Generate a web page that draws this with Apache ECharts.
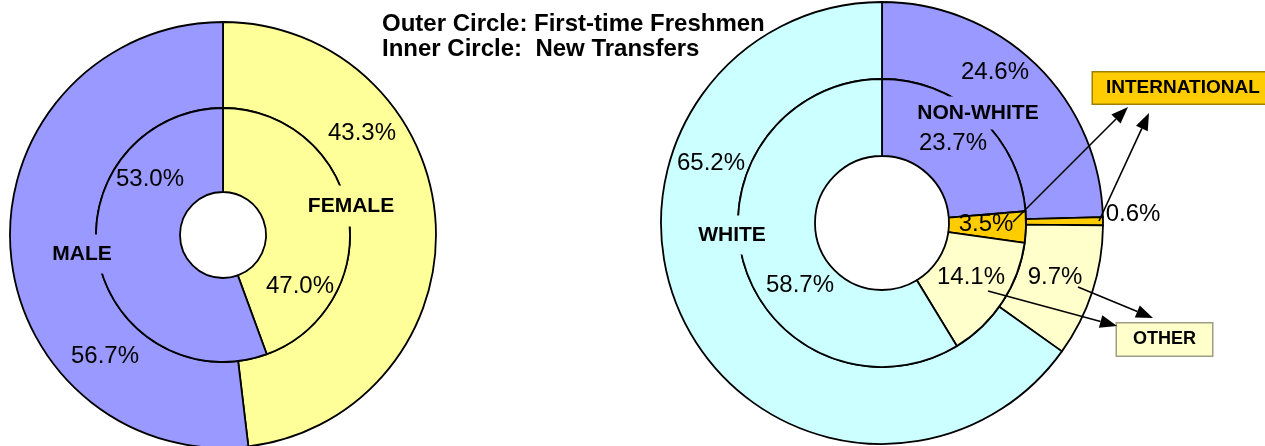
<!DOCTYPE html>
<html>
<head>
<meta charset="utf-8">
<script src="https://cdn.jsdelivr.net/npm/echarts@6/dist/echarts.min.js"></script>
<style>
  html, body { margin: 0; padding: 0; background: #ffffff; }
  #chart { width: 1265px; height: 446px; }
</style>
</head>
<body>
<div id="chart"></div>
<script>
// ---------------- data ----------------
const titleLines = ['Outer Circle: First-time Freshmen', 'Inner Circle:  New Transfers'];

// Left donut: gender (clockwise from 12 o'clock)
const genderCategories = ['FEMALE', 'MALE'];
const genderFreshmen = [48.1, 51.9];          // outer ring, slice sizes as drawn
const genderTransfers = [44.4, 55.6];         // inner ring, slice sizes as drawn
const genderFreshmenLabels = ['43.3%', '56.7%'];
const genderTransferLabels = ['47.0%', '53.0%'];

// Right donut: ethnicity (clockwise from 12 o'clock)
const ethnicCategories = ['NON-WHITE', 'INTERNATIONAL', 'OTHER', 'WHITE'];
const ethnicFreshmen = [24.6, 0.6, 9.7, 65.2];   // outer ring
const ethnicTransfers = [23.7, 3.5, 14.1, 58.7]; // inner ring

// ---------------- styles ----------------
const FONT = '"Liberation Sans", Arial, sans-serif';
const genderColors = ['#FFFF99', '#9999FF'];
const ethnicColors = ['#9999FF', '#FFCC00', '#FFFFCC', '#CCFFFF'];

const leftCenter = [223, 235];
const rightCenter = [882, 223];

const labelPos = {
  gOuter: [[362, 133], [105, 356]],
  gInner: [[300, 286], [150, 179]],
  eOuter: [[995, 72], [1133, 214], [1055, 277], [711, 163]],
  eInner: [[953, 143], [986, 224], [971, 277], [800, 285]]
};

function ring(center, radius, values, names, colors, texts, pos) {
  return {
    type: 'pie',
    center: center,
    radius: radius,
    startAngle: 90,
    clockwise: true,
    silent: true,
    animation: false,
    avoidLabelOverlap: false,
    minAngle: 0,
    emphasis: { disabled: true },
    itemStyle: { borderColor: '#000000', borderWidth: 1.8 },
    label: {
      show: true,
      position: 'inside',
      color: '#000000',
      fontFamily: FONT,
      fontSize: 24,
      fontWeight: 'normal'
    },
    labelLine: { show: false },
    labelLayout: function (p) {
      const xy = pos[p.dataIndex];
      return { x: xy[0], y: xy[1], align: 'center', verticalAlign: 'middle' };
    },
    data: values.map(function (v, i) {
      return {
        value: v,
        name: names[i],
        itemStyle: { color: colors[i] },
        label: { formatter: texts[i] }
      };
    })
  };
}

const pct = function (v) { return v.toFixed(1) + '%'; };

const series = [
  ring(leftCenter, [127, 213], genderFreshmen, genderCategories, genderColors, genderFreshmenLabels, labelPos.gOuter),
  ring(leftCenter, [43, 127], genderTransfers, genderCategories, genderColors, genderTransferLabels, labelPos.gInner),
  ring(rightCenter, [144, 221], ethnicFreshmen, ethnicCategories, ethnicColors, ethnicFreshmen.map(pct), labelPos.eOuter),
  ring(rightCenter, [67, 144], ethnicTransfers, ethnicCategories, ethnicColors, ethnicTransfers.map(pct), labelPos.eInner)
];

// ---------------- annotations ----------------
function nameTag(text, x, y, bg, pad) {
  return {
    type: 'text', x: x, y: y, z: 100,
    style: {
      text: text, font: 'bold 21px ' + FONT, fill: '#000000',
      align: 'center', verticalAlign: 'middle',
      backgroundColor: bg, padding: pad
    }
  };
}
function box(text, x, y, align, bg, border, size, pad) {
  return {
    type: 'text', x: x, y: y, z: 100,
    style: {
      text: text, font: 'bold ' + size + 'px ' + FONT, fill: '#000000',
      align: align, verticalAlign: 'middle',
      backgroundColor: bg, borderColor: border, borderWidth: 1.5, padding: pad
    }
  };
}
function arrow(x1, y1, x2, y2) {
  const L = 17, W = 6.5;
  const dx = x2 - x1, dy = y2 - y1, len = Math.hypot(dx, dy);
  const ux = dx / len, uy = dy / len;
  const bx = x2 - ux * L, by = y2 - uy * L;
  return [
    { type: 'line', z: 100, shape: { x1: x1, y1: y1, x2: bx, y2: by },
      style: { stroke: '#000000', lineWidth: 1.6 } },
    { type: 'polygon', z: 100,
      shape: { points: [[x2, y2], [bx - uy * W, by + ux * W], [bx + uy * W, by - ux * W]] },
      style: { fill: '#000000' } }
  ];
}

const graphics = [
  { type: 'text', x: 382, y: 24, z: 100,
    style: { text: titleLines[0], font: 'bold 24px ' + FONT, fill: '#000000', align: 'left', verticalAlign: 'middle' } },
  { type: 'text', x: 382, y: 49, z: 100,
    style: { text: titleLines[1], font: 'bold 24px ' + FONT, fill: '#000000', align: 'left', verticalAlign: 'middle' } },
  nameTag(genderCategories[1], 82, 254, genderColors[1], [9, 16]),
  nameTag(genderCategories[0], 351, 206, genderColors[0], [10, 10]),
  nameTag(ethnicCategories[0], 978, 113, ethnicColors[0], [8, 8, 4, 8]),
  nameTag(ethnicCategories[3], 732, 235, ethnicColors[3], [9, 12]),
  box(ethnicCategories[1], 1093, 88, 'left', '#FFCC00', '#A08000', 19, [6, 13]),
  box(ethnicCategories[2], 1164.5, 339.5, 'center', '#FFFFCC', '#9E9E86', 18, [7, 16])
].concat(
  arrow(1013, 222, 1128, 107),
  arrow(1099, 221, 1149, 113),
  arrow(988, 291, 1117, 326),
  arrow(1078, 287, 1153, 318)
);

const chart = echarts.init(document.getElementById('chart'));
chart.setOption({
  backgroundColor: '#ffffff',
  animation: false,
  series: series,
  graphic: { elements: graphics }
});
</script>
</body>
</html>
